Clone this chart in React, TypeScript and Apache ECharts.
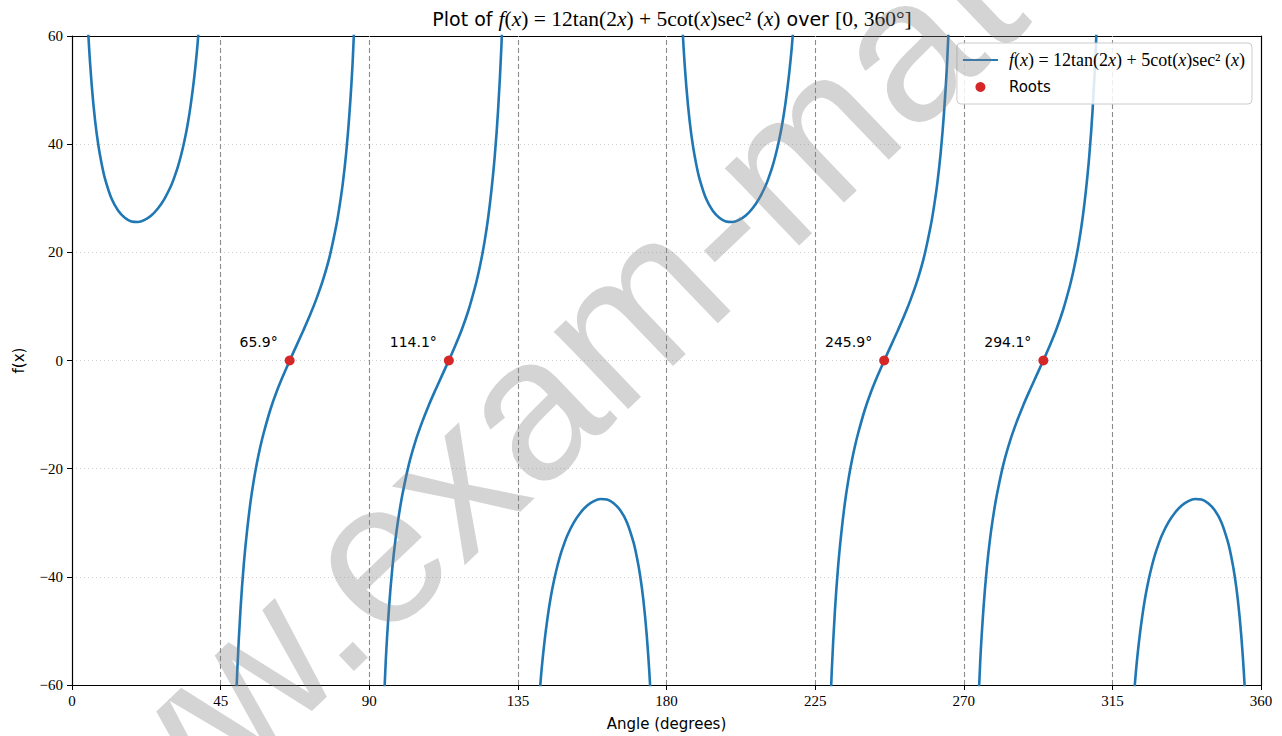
import React, { useEffect, useRef } from "react";
import * as echarts from "echarts";

// ---- data ----
const curveName = "f(x) = 12tan(2x) + 5cot(x)sec²(x)";
const xTicks = [0, 45, 90, 135, 180, 225, 270, 315, 360];
const yTicks = [-60, -40, -20, 0, 20, 40, 60];
const asymptotes = [45, 90, 135, 180, 225, 270, 315];
const roots = [65.9, 114.1, 245.9, 294.1];

const branch1 = [[3,96.9],[4,73.5],[5,59.7],[6,50.7],[7,44.3],[8,39.7],[9,36.3],[10,33.6],[12,29.9],[14,27.7],[16,26.4],[18,25.7],[20,25.6],[22,26.0],[24,26.8],[26,28.1],[28,29.9],[30,32.3],[31,33.9],[32,35.7],[33,37.9],[34,40.5],[35,43.6],[36,47.5],[37,52.3],[38,58.4],[39,66.7]];
const branch2 = [[49,-75.3],[50,-57.9],[51,-46.2],[52,-37.8],[53,-31.5],[54,-26.4],[55,-22.3],[56,-18.9],[57,-16.0],[58,-13.5],[60,-9.2],[62,-5.7],[64,-2.7],[66,0.1],[68,2.8],[70,5.5],[72,8.3],[74,11.4],[76,14.9],[78,19.2],[80,24.9],[81,28.5],[82,32.8],[83,38.3],[84,45.6],[85,55.5],[86,70.2]];
const branch3 = [[94,-70.2],[95,-55.5],[96,-45.6],[97,-38.3],[98,-32.8],[99,-28.5],[100,-24.9],[102,-19.2],[104,-14.9],[106,-11.4],[108,-8.3],[110,-5.5],[112,-2.8],[114,-0.1],[116,2.7],[118,5.7],[120,9.2],[122,13.5],[123,16.0],[124,18.9],[125,22.3],[126,26.4],[127,31.5],[128,37.8],[129,46.2],[130,57.9],[131,75.3]];
const branch4 = [[141,-66.7],[142,-58.4],[143,-52.3],[144,-47.5],[145,-43.6],[146,-40.5],[147,-37.9],[148,-35.7],[149,-33.9],[150,-32.3],[152,-29.9],[154,-28.1],[156,-26.8],[158,-26.0],[160,-25.6],[162,-25.7],[164,-26.4],[166,-27.7],[168,-29.9],[170,-33.6],[171,-36.3],[172,-39.7],[173,-44.3],[174,-50.7],[175,-59.7],[176,-73.5],[177,-96.9]];
const branch5 = [[183,96.9],[184,73.5],[185,59.7],[186,50.7],[187,44.3],[188,39.7],[189,36.3],[190,33.6],[192,29.9],[194,27.7],[196,26.4],[198,25.7],[200,25.6],[202,26.0],[204,26.8],[206,28.1],[208,29.9],[210,32.3],[211,33.9],[212,35.7],[213,37.9],[214,40.5],[215,43.6],[216,47.5],[217,52.3],[218,58.4],[219,66.7]];
const branch6 = [[229,-75.3],[230,-57.9],[231,-46.2],[232,-37.8],[233,-31.5],[234,-26.4],[235,-22.3],[236,-18.9],[237,-16.0],[238,-13.5],[240,-9.2],[242,-5.7],[244,-2.7],[246,0.1],[248,2.8],[250,5.5],[252,8.3],[254,11.4],[256,14.9],[258,19.2],[260,24.9],[261,28.5],[262,32.8],[263,38.3],[264,45.6],[265,55.5],[266,70.2]];
const branch7 = [[274,-70.2],[275,-55.5],[276,-45.6],[277,-38.3],[278,-32.8],[279,-28.5],[280,-24.9],[282,-19.2],[284,-14.9],[286,-11.4],[288,-8.3],[290,-5.5],[292,-2.8],[294,-0.1],[296,2.7],[298,5.7],[300,9.2],[302,13.5],[303,16.0],[304,18.9],[305,22.3],[306,26.4],[307,31.5],[308,37.8],[309,46.2],[310,57.9],[311,75.3]];
const branch8 = [[321,-66.7],[322,-58.4],[323,-52.3],[324,-47.5],[325,-43.6],[326,-40.5],[327,-37.9],[328,-35.7],[329,-33.9],[330,-32.3],[332,-29.9],[334,-28.1],[336,-26.8],[338,-26.0],[340,-25.6],[342,-25.7],[344,-26.4],[346,-27.7],[348,-29.9],[350,-33.6],[351,-36.3],[352,-39.7],[353,-44.3],[354,-50.7],[355,-59.7],[356,-73.5],[357,-96.9]];
const branches = [branch1, branch2, branch3, branch4, branch5, branch6, branch7, branch8];

const SERIF = "'Liberation Serif', 'DejaVu Serif', serif";
const SANS = "'DejaVu Sans', sans-serif";
const mathRich = (size: number, sansSize: number) => ({
  i: { fontFamily: SERIF, fontStyle: "italic", fontWeight: "normal", fontSize: size, color: "#000" },
  r: { fontFamily: SERIF, fontWeight: "normal", fontSize: size, color: "#000" },
  s: { fontFamily: SANS, fontWeight: "normal", fontSize: sansSize, color: "#000" },
});
const mathCurve = "{i|f}{r|(}{i|x}{r|) = 12tan(2}{i|x}{r|) + 5cot(}{i|x}{r|)sec² (}{i|x}{r|)}";

const minus = (v: number) => (v < 0 ? "\u2212" + Math.abs(v) : String(v));

export default function App() {
  const ref = useRef<HTMLDivElement>(null);
  useEffect(() => {
    if (!ref.current) return;
    const chart = echarts.init(ref.current, null, { renderer: "svg" });
    const lineSeries = branches.map((b) => ({
      name: curveName,
      type: "line",
      data: b,
      showSymbol: false,
      symbol: "none",
      smooth: 0.3,
      clip: true,
      lineStyle: { color: "#1f77b4", width: 2.6 },
      itemStyle: { color: "#1f77b4" },
      z: 3,
    }));
    (lineSeries[0] as any).markLine = {
      silent: true,
      symbol: ["none", "none"],
      label: { show: false },
      lineStyle: { type: [5, 3], color: "#8c8c8c", width: 1.1 },
      data: asymptotes.map((a) => ({ xAxis: a })),
      z: 2,
    };
    const frameAxis = {
      type: "value",
      axisLine: { show: true, onZero: false, lineStyle: { color: "#000", width: 1.2 } },
      axisTick: { show: false },
      axisLabel: { show: false },
      splitLine: { show: false },
    };
    chart.setOption({
      animation: false,
      backgroundColor: "#fff",
      title: {
        text: "{s|Plot of }" + mathCurve + "{s| over }{r|[0, 360°]}",
        left: 667,
        textAlign: "center",
        top: 3,
        padding: 5,
        textStyle: { fontWeight: "normal", rich: mathRich(21.5, 19) },
      },
      legend: {
        right: 30,
        top: 43,
        orient: "vertical",
        align: "left",
        padding: [8, 7, 8, 5],
        itemGap: 9,
        itemWidth: 35,
        itemHeight: 10,
        backgroundColor: "rgba(255,255,255,0.85)",
        borderColor: "#cccccc",
        borderWidth: 1,
        borderRadius: 4,
        data: [
          { name: curveName, itemStyle: { opacity: 0 } },
          { name: "Roots", icon: "circle" },
        ],
        formatter: (name: string) => (name === "Roots" ? "{s|Roots}" : mathCurve),
        textStyle: {
          lineHeight: 18,
          padding: [0, 0, 0, 6],
          rich: mathRich(18, 15),
        },
      },
      grid: {
        left: 72,
        right: 21,
        top: 36,
        bottom: 48,
        show: false,
      },
      xAxis: [
        {
          type: "value",
          min: 0,
          max: 360,
          interval: 45,
          name: "Angle (degrees)",
          nameLocation: "middle",
          nameGap: 31,
          nameTextStyle: { fontFamily: SANS, fontSize: 15, color: "#000" },
          axisLine: { show: true, onZero: false, lineStyle: { color: "#000", width: 1.2 } },
          axisTick: { show: true, length: 5, lineStyle: { color: "#000" } },
          axisLabel: {
            margin: 8,
            color: "#000",
            fontFamily: SERIF,
            fontSize: 15,
            formatter: (v: number) => (xTicks.includes(v) ? String(v) : ""),
          },
          splitLine: { show: true, lineStyle: { type: [1, 3], color: "#d0d0d0" } },
        },
        { ...frameAxis, position: "top", min: 0, max: 360 },
      ],
      yAxis: [
        {
          type: "value",
          min: -60,
          max: 60,
          interval: 20,
          name: "f(x)",
          nameLocation: "middle",
          nameGap: 46,
          nameTextStyle: { fontFamily: SANS, fontSize: 15, color: "#000" },
          axisLine: { show: true, onZero: false, lineStyle: { color: "#000", width: 1.2 } },
          axisTick: { show: true, length: 5, lineStyle: { color: "#000" } },
          axisLabel: {
            margin: 9,
            color: "#000",
            fontFamily: SERIF,
            fontSize: 15,
            formatter: (v: number) => (yTicks.includes(v) ? minus(v) : ""),
          },
          splitLine: { show: true, lineStyle: { type: [1, 3], color: "#d0d0d0" } },
        },
        { ...frameAxis, position: "right", min: -60, max: 60 },
      ],
      series: [
        ...lineSeries,
        {
          name: "Roots",
          type: "scatter",
          data: roots.map((r) => [r, 0]),
          symbol: "circle",
          symbolSize: 10,
          itemStyle: { color: "#d62728", opacity: 1 },
          z: 5,
          label: {
            show: true,
            position: "left",
            distance: 7,
            offset: [0, -19],
            formatter: (p: any) => p.value[0].toFixed(1) + "°",
            fontFamily: SANS,
            fontSize: 14,
            color: "#000",
          },
        },
      ],
      graphic: [
        {
          type: "text",
          silent: true,
          x: -18,
          y: 929,
          rotation: (43.7 * Math.PI) / 180,
          z: 100,
          style: {
            text: "www.exam-mate.com",
            font: "203px 'Liberation Sans', Arial, sans-serif",
            fill: "rgba(128,128,128,0.34)",
            textAlign: "left",
            textVerticalAlign: "middle",
            verticalAlign: "middle",
          },
        },
      ],
    });
    return () => chart.dispose();
  }, []);
  return (
    <div
      ref={ref}
      style={{ position: "fixed", left: 0, top: 0, width: 1282, height: 736 }}
    />
  );
}
